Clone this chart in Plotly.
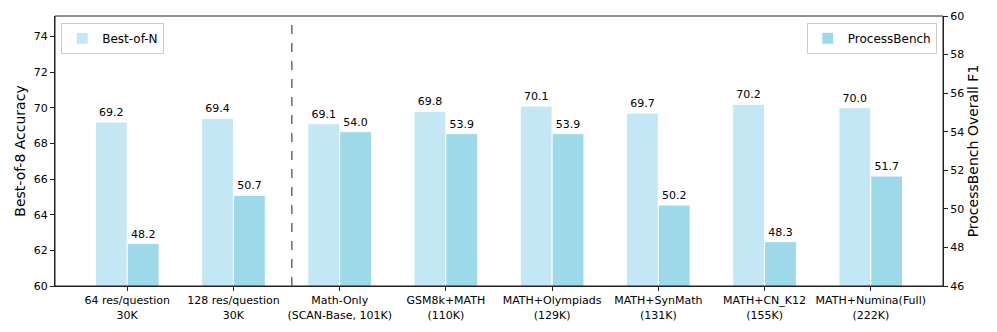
import plotly.graph_objects as go

# data
categories = ["64 res/question<br>30K", "128 res/question<br>30K",
              "Math-Only<br>(SCAN-Base, 101K)", "GSM8k+MATH<br>(110K)",
              "MATH+Olympiads<br>(129K)", "MATH+SynMath<br>(131K)",
              "MATH+CN_K12<br>(155K)", "MATH+Numina(Full)<br>(222K)"]
best_of_n = [69.2, 69.4, 69.1, 69.8, 70.1, 69.7, 70.2, 70.0]
processbench = [48.2, 50.7, 54.0, 53.9, 53.9, 50.2, 48.3, 51.7]

font = "DejaVu Sans"

fig = go.Figure()

fig.add_trace(go.Bar(
    x=categories, y=best_of_n, name="Best-of-N",
    offset=-0.3, width=0.3,
    marker=dict(color="#c4e7f6", line=dict(color="white", width=1)),
    texttemplate="%{y:.1f}", textposition="outside",
    textfont=dict(size=11, color="black", family=font),
    cliponaxis=False, legend="legend", showlegend=True,
))
fig.add_trace(go.Bar(
    x=categories, y=processbench, name="ProcessBench",
    offset=0, width=0.3,
    marker=dict(color="#9ed9e9", line=dict(color="white", width=1)),
    texttemplate="%{y:.1f}", textposition="outside",
    textfont=dict(size=11, color="black", family=font),
    cliponaxis=False, yaxis="y2", legend="legend2", showlegend=True,
))

# separator between response-count and dataset groups
fig.add_shape(type="line", xref="x", yref="paper", x0=1.55, x1=1.55, y0=0, y1=1,
              line=dict(color="#444", width=1.2, dash="dash"))
# axes frame
fig.add_shape(type="rect", xref="paper", yref="paper", x0=0, x1=1, y0=0, y1=1,
              line=dict(color="#222", width=1), layer="above")

axis_common = dict(showline=True, linecolor="#222", linewidth=1, ticks="outside",
                   ticklen=4, tickcolor="#222", showgrid=False, zeroline=False,
                   automargin=False,
                   tickfont=dict(size=11, color="black", family=font))

fig.update_layout(
    width=997, height=332,
    margin=dict(l=55, r=54, t=16, b=46),
    plot_bgcolor="white", paper_bgcolor="white",
    font=dict(family=font, color="black"),
    barmode="overlay", showlegend=True,
    xaxis=dict(range=[-0.68, 7.68], **axis_common),
    yaxis=dict(range=[60, 75.15], tickvals=list(range(60, 76, 2)),
               title=dict(text="Best-of-8 Accuracy", font=dict(size=14), standoff=4),
               **axis_common),
    yaxis2=dict(range=[46, 60], tickvals=list(range(46, 61, 2)), overlaying="y",
                side="right",
                title=dict(text="ProcessBench Overall F1", font=dict(size=14), standoff=4),
                **axis_common),
    legend=dict(x=0.007, y=0.975, xanchor="left", yanchor="top",
                bordercolor="#ccc", borderwidth=1, bgcolor="white",
                font=dict(size=12, family=font)),
    legend2=dict(x=0.993, y=0.975, xanchor="right", yanchor="top",
                 bordercolor="#ccc", borderwidth=1, bgcolor="white",
                 font=dict(size=12, family=font)),
)

fig.write_html("out.html", config={"displayModeBar": False},
               post_script="document.body.style.margin='0';")
